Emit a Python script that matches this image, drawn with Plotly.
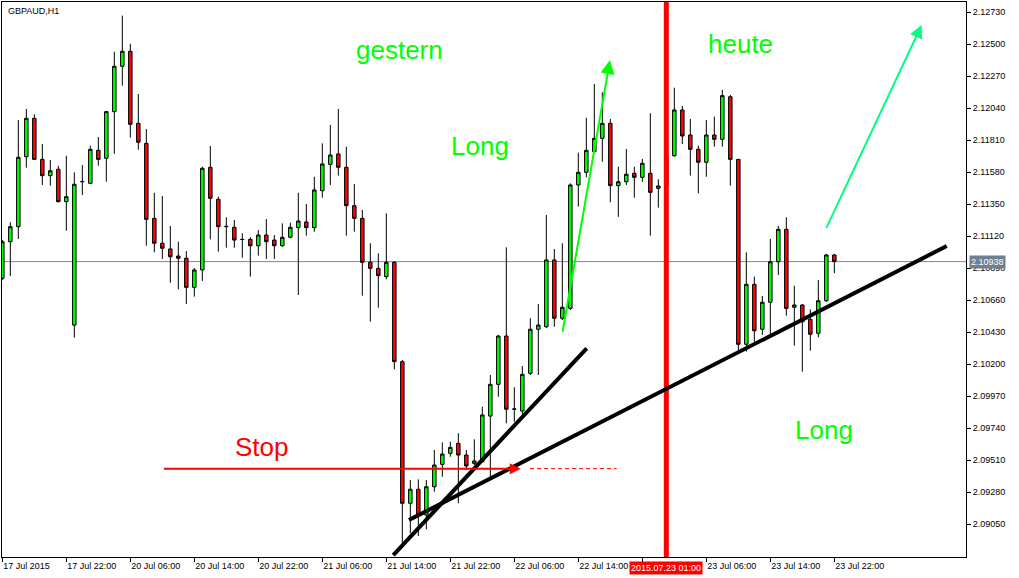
import pandas as pd
import plotly.graph_objects as go

symbol_label = "GBPAUD,H1"

# hourly bars (forex, weekend skipped)
times = [t for t in pd.date_range("2015-07-17 14:00", "2015-07-23 22:00", freq="h") if t.weekday() < 5]
time_labels = [t.strftime("%Y.%m.%d %H:%M") for t in times]

open_ = [2.10818, 2.11081, 2.11189, 2.11692, 2.11968, 2.11673, 2.11556, 2.11602, 2.11369, 2.10482,
         2.11512, 2.11501, 2.11738, 2.11681, 2.12016, 2.12342, 2.12450, 2.11932, 2.11788, 2.11249,
         2.11070, 2.11029, 2.10978, 2.10962, 2.10753, 2.10878, 2.11616, 2.11386, 2.11189, 2.11185,
         2.11098, 2.11098, 2.11052, 2.11129, 2.11093, 2.11052, 2.11113, 2.11182, 2.11223, 2.11182,
         2.11448, 2.11637, 2.11712, 2.11616, 2.11340, 2.11249, 2.10933, 2.10890, 2.10830, 2.10933,
         2.10219, 2.09201, 2.09302, 2.09117, 2.09320, 2.09481, 2.09560, 2.09632, 2.09548, 2.09488,
         2.09500, 2.09828, 2.10056, 2.10403, 2.09877, 2.09864, 2.10135, 2.10452, 2.10470, 2.10950,
         2.10531, 2.10602, 2.11489, 2.11580, 2.11728, 2.11824, 2.11932, 2.11484, 2.11512, 2.11573,
         2.11544, 2.11573, 2.11465, 2.11482, 2.11699, 2.12028, 2.11848, 2.11745, 2.11652, 2.11848,
         2.11817, 2.12123, 2.11673, 2.10344, 2.10775, 2.10452, 2.10646, 2.10937, 2.11170, 2.10610,
         2.10626, 2.10523, 2.10423, 2.10657, 2.10986]
high = [2.11093, 2.11221, 2.11956, 2.12035, 2.11997, 2.11783, 2.11668, 2.11627, 2.11699, 2.11580,
        2.11632, 2.11771, 2.11834, 2.12021, 2.12447, 2.12706, 2.12504, 2.12143, 2.11891, 2.11433,
        2.11410, 2.11194, 2.11081, 2.11014, 2.10892, 2.11620, 2.11769, 2.11405, 2.11257, 2.11237,
        2.11142, 2.11113, 2.11165, 2.11244, 2.11129, 2.11213, 2.11218, 2.11433, 2.11352, 2.11548,
        2.11788, 2.11920, 2.12035, 2.11764, 2.11496, 2.11309, 2.11070, 2.10998, 2.11285, 2.10942,
        2.10231, 2.09368, 2.09373, 2.09368, 2.09584, 2.09639, 2.09644, 2.09704, 2.09584, 2.09661,
        2.09895, 2.10123, 2.10411, 2.11041, 2.10035, 2.10188, 2.10531, 2.10633, 2.11273, 2.11029,
        2.11070, 2.11501, 2.11721, 2.11972, 2.12215, 2.12155, 2.11963, 2.11620, 2.11747, 2.11620,
        2.11676, 2.12004, 2.11530, 2.11760, 2.12188, 2.12057, 2.11963, 2.11771, 2.11956, 2.11980,
        2.12172, 2.12136, 2.11676, 2.11005, 2.10830, 2.10691, 2.11101, 2.11194, 2.11257, 2.10765,
        2.10633, 2.10595, 2.10806, 2.10993, 2.10993]
low = [2.10806, 2.10835, 2.11101, 2.11613, 2.11668, 2.11489, 2.11484, 2.11364, 2.11160, 2.10391,
       2.11417, 2.11496, 2.11627, 2.11512, 2.11712, 2.12202, 2.11829, 2.11742, 2.11052, 2.11005,
       2.10957, 2.10786, 2.10739, 2.10633, 2.10686, 2.10799, 2.11098, 2.11009, 2.11038, 2.11038,
       2.10966, 2.10830, 2.10981, 2.10957, 2.10957, 2.11045, 2.11106, 2.10698, 2.11124, 2.11153,
       2.11397, 2.11489, 2.11556, 2.11124, 2.11153, 2.10693, 2.10506, 2.10607, 2.10811, 2.10164,
       2.08913, 2.08985, 2.08966, 2.09014, 2.09284, 2.09392, 2.09536, 2.09201, 2.09440, 2.09476,
       2.09493, 2.09392, 2.09967, 2.09776, 2.09787, 2.09836, 2.10123, 2.10123, 2.10461, 2.10470,
       2.10518, 2.10590, 2.11333, 2.11544, 2.11726, 2.11656, 2.11364, 2.11260, 2.11489, 2.11397,
       2.11512, 2.11124, 2.11326, 2.11450, 2.11692, 2.11783, 2.11556, 2.11429, 2.11548, 2.11764,
       2.11764, 2.11484, 2.10298, 2.10291, 2.10362, 2.10411, 2.10411, 2.10842, 2.10549, 2.10334,
       2.10147, 2.10298, 2.10394, 2.10648, 2.10855]
close = [2.11081, 2.11189, 2.11688, 2.11968, 2.11673, 2.11556, 2.11591, 2.11369, 2.11405, 2.11494,
         2.11514, 2.11745, 2.11673, 2.12016, 2.12342, 2.12450, 2.11925, 2.11796, 2.11242, 2.11070,
         2.11034, 2.10973, 2.10962, 2.10753, 2.10878, 2.11609, 2.11393, 2.11189, 2.11191, 2.11093,
         2.11097, 2.11052, 2.11129, 2.11081, 2.11052, 2.11113, 2.11185, 2.11230, 2.11182, 2.11453,
         2.11640, 2.11704, 2.11616, 2.11340, 2.11249, 2.10933, 2.10890, 2.10837, 2.10933, 2.10219,
         2.09201, 2.09302, 2.09117, 2.09320, 2.09476, 2.09555, 2.09603, 2.09548, 2.09469, 2.09505,
         2.09836, 2.10056, 2.10403, 2.09877, 2.09879, 2.10128, 2.10452, 2.10482, 2.10950, 2.10531,
         2.10610, 2.11489, 2.11580, 2.11738, 2.11824, 2.11932, 2.11484, 2.11512, 2.11566, 2.11544,
         2.11645, 2.11436, 2.11482, 2.11699, 2.12028, 2.11841, 2.11745, 2.11652, 2.11848, 2.11817,
         2.12131, 2.11673, 2.10344, 2.10775, 2.10441, 2.10646, 2.10937, 2.11170, 2.10602, 2.10626,
         2.10506, 2.10416, 2.10657, 2.10986, 2.10938]

x_tick_labels = ["17 Jul 2015", "17 Jul 22:00", "20 Jul 06:00", "20 Jul 14:00", "20 Jul 22:00",
                 "21 Jul 06:00", "21 Jul 14:00", "21 Jul 22:00", "22 Jul 06:00", "22 Jul 14:00",
                 "", "23 Jul 06:00", "23 Jul 14:00", "23 Jul 22:00"]
y_tick_values = [2.09050, 2.09280, 2.09510, 2.09740, 2.09970, 2.10200, 2.10430, 2.10660,
                 2.10890, 2.11120, 2.11350, 2.11580, 2.11810, 2.12040, 2.12270, 2.12500, 2.12730]

current_price = 2.10938
marker_time = "2015.07.23 01:00"

# drawn objects (bar position, price)
trend1 = [(48.87, 2.08829), (73.05, 2.10315)]
trend2 = [(50.83, 2.09081), (118.05, 2.11050)]
arrow1 = [(70.0, 2.10423), (75.96, 2.12387)]
arrow2 = [(102.92, 2.11170), (114.92, 2.12639)]
stop_solid = [(20.0, 2.09450), (64.8, 2.09450)]
stop_dash = [(65.96, 2.09450), (76.8, 2.09450)]
texts = [("gestern", 49.6, 2.12459, "#00ff00"), ("Long", 59.75, 2.11768, "#00ff00"),
         ("heute", 92.21, 2.12503, "#00ff00"), ("Long", 102.73, 2.09729, "#00ff00"),
         ("Stop", 32.48, 2.09609, "#ff0000")]

fig = go.Figure()
fig.add_trace(go.Candlestick(
    x=time_labels, open=open_, high=high, low=low, close=close,
    increasing=dict(line=dict(color="black", width=1), fillcolor="#00ff00"),
    decreasing=dict(line=dict(color="black", width=1), fillcolor="#ff0000"),
    whiskerwidth=0, hoverinfo="skip"))

tick_pos = time_labels[::8]

fig.update_layout(
    width=1019, height=578,
    margin=dict(l=2, r=53, t=2, b=21),
    paper_bgcolor="white", plot_bgcolor="white",
    showlegend=False, boxgap=0.38,
    font=dict(family="Liberation Sans, Arial, sans-serif", size=9, color="black"),
    xaxis=dict(type="category", range=[-0.04, 120.46], rangeslider=dict(visible=False),
               showgrid=False, zeroline=False, showline=True, mirror=True, linecolor="black",
               linewidth=1, ticks="outside", ticklen=4, tickcolor="black",
               tickvals=tick_pos, ticktext=x_tick_labels, tickangle=0,
               ticklabelposition="outside right", tickfont=dict(size=9)),
    yaxis=dict(side="right", range=[2.08815, 2.12804], showgrid=False, zeroline=False,
               showline=True, mirror=True, linecolor="black", linewidth=1,
               ticks="outside", ticklen=4, tickcolor="black",
               tickvals=y_tick_values, tickformat=".5f", tickfont=dict(size=9)),
)

shapes = []
shapes.append(dict(type="line", xref="paper", yref="y", x0=0, x1=1, y0=current_price, y1=current_price,
                   line=dict(color="#778899", width=1), layer="below"))
shapes.append(dict(type="line", xref="x", yref="paper", x0=marker_time, x1=marker_time, y0=0, y1=1,
                   line=dict(color="#ff0000", width=5), layer="above"))
for seg in (trend1, trend2):
    shapes.append(dict(type="line", xref="x", yref="y", x0=seg[0][0], y0=seg[0][1], x1=seg[1][0], y1=seg[1][1],
                       line=dict(color="black", width=4), layer="above"))
shapes.append(dict(type="line", xref="x", yref="y", x0=stop_dash[0][0], y0=stop_dash[0][1],
                   x1=stop_dash[1][0], y1=stop_dash[1][1],
                   line=dict(color="#ff0000", width=1, dash="4px,3px"), layer="above"))
fig.update_layout(shapes=shapes)

annotations = []
for seg, col, w, sz in ((arrow1, "#00ff00", 2, 1.4), (arrow2, "#00ff7f", 2, 1.3), (stop_solid, "#ff0000", 2, 1.1)):
    annotations.append(dict(x=seg[1][0], y=seg[1][1], ax=seg[0][0], ay=seg[0][1], xref="x", yref="y",
                            axref="x", ayref="y", text="", showarrow=True, arrowhead=2, arrowsize=sz,
                            arrowwidth=w, arrowcolor=col, standoff=0))
for txt, xx, yy, col in texts:
    annotations.append(dict(x=xx, y=yy, xref="x", yref="y", text=txt, showarrow=False,
                            font=dict(size=26, color=col, family="Liberation Sans, Arial, sans-serif"),
                            xanchor="center", yanchor="middle"))
annotations.append(dict(x=0, y=1, xref="paper", yref="paper", text=symbol_label, showarrow=False,
                        xanchor="left", yanchor="top", xshift=4, yshift=-2, font=dict(size=9, color="black")))
annotations.append(dict(x=1, y=current_price, xref="paper", yref="y", text=f"{current_price:.5f}",
                        showarrow=False, xanchor="left", yanchor="middle", xshift=3,
                        bgcolor="#708090", borderpad=1, font=dict(size=9, color="white")))
annotations.append(dict(x=marker_time, y=0, xref="x", yref="paper", text=marker_time, showarrow=False,
                        xanchor="center", yanchor="top", yshift=-4,
                        bgcolor="#ff0000", borderpad=1, font=dict(size=9, color="white")))
fig.update_layout(annotations=annotations)

fig.write_html("out.html", config={"displayModeBar": False},
               post_script="document.body.style.margin='0';")
